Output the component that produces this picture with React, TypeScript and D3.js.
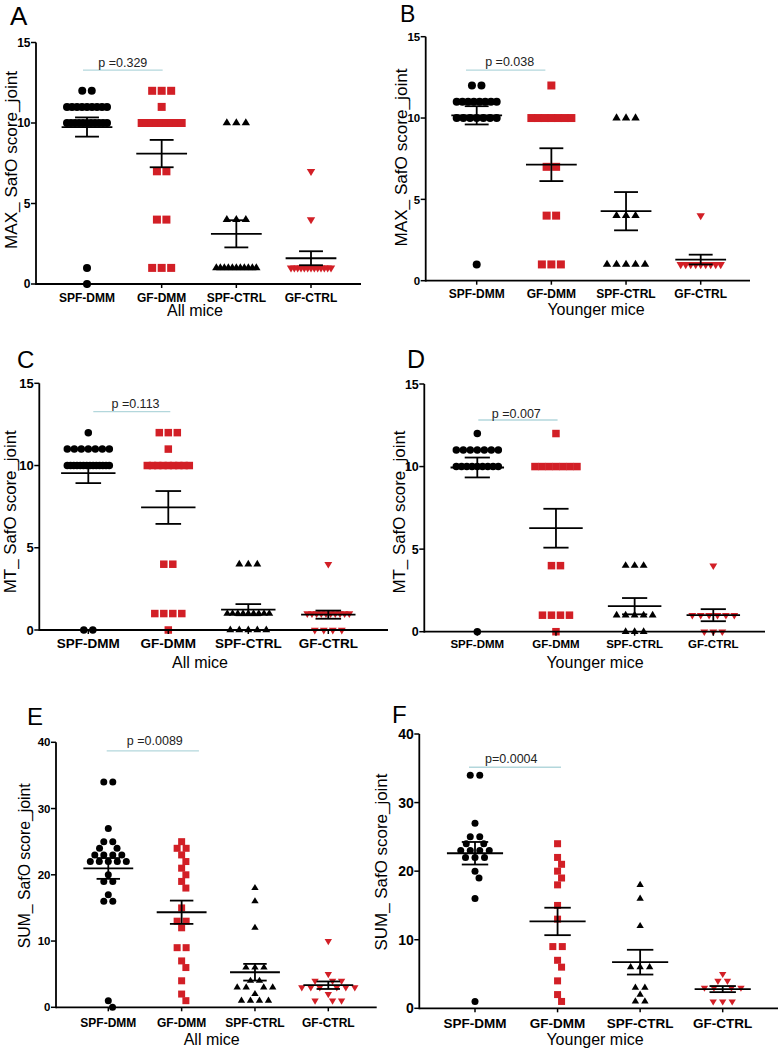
import React from "react";
import * as d3 from "d3";

const CATEGORIES = ["SPF-DMM", "GF-DMM", "SPF-CTRL", "GF-CTRL"];
const GROUP_COLORS = ["#000000", "#d21f26", "#000000", "#d21f26"];
const GROUP_SHAPES = ["circle", "square", "triangleUp", "triangleDown"];

const TICKS_15 = [0, 5, 10, 15];
const TICKS_40 = [0, 10, 20, 30, 40];

// A — MAX SafO score, all mice
const A_SPF_DMM = [12, 12, 11, 11, 11, 11, 11, 11, 11, 11, 11, 10, 10, 10, 10, 10, 10, 10, 10, 10, 10, 10, 1, 0];
const A_GF_DMM = [12, 12, 12, 11, 10, 10, 10, 10, 10, 10, 10, 10, 10, 7, 7, 4, 4, 1, 1, 1];
const A_SPF_CTRL = [10, 10, 10, 4, 4, 4, 1, 1, 1, 1, 1, 1, 1, 1, 1, 1, 1];
const A_GF_CTRL = [7, 4, 1, 1, 1, 1, 1, 1, 1, 1, 1, 1, 1, 1, 1];

// B — MAX SafO score, younger mice
const B_SPF_DMM = [12, 12, 11, 11, 11, 11, 11, 11, 11, 11, 10, 10, 10, 10, 10, 10, 10, 1];
const B_GF_DMM = [12, 10, 10, 10, 10, 10, 10, 10, 7, 7, 4, 4, 1, 1, 1];
const B_SPF_CTRL = [10, 10, 10, 4, 4, 4, 1, 1, 1, 1, 1];
const B_GF_CTRL = [4, 1, 1, 1, 1, 1, 1, 1, 1, 1];

// C — MT SafO score, all mice
const C_SPF_DMM = [12, 11, 11, 11, 11, 11, 11, 11, 10, 10, 10, 10, 10, 10, 10, 10, 10, 10, 10, 10, 10, 10, 0, 0];
const C_GF_DMM = [12, 12, 12, 11, 10, 10, 10, 10, 10, 10, 10, 10, 10, 4, 4, 1, 1, 1, 1, 0];
const C_SPF_CTRL = [4, 4, 4, 1, 1, 1, 1, 1, 1, 1, 1, 1, 0, 0, 0, 0, 0];
const C_GF_CTRL = [4, 1, 1, 1, 1, 1, 1, 1, 1, 1, 1, 0, 0, 0, 0];

// D — MT SafO score, younger mice
const D_SPF_DMM = [12, 11, 11, 11, 11, 11, 11, 11, 10, 10, 10, 10, 10, 10, 10, 10, 10, 0];
const D_GF_DMM = [12, 10, 10, 10, 10, 10, 10, 10, 4, 4, 1, 1, 1, 1, 0];
const D_SPF_CTRL = [4, 4, 4, 1, 1, 1, 1, 1, 0, 0, 0];
const D_GF_CTRL = [4, 1, 1, 1, 1, 1, 1, 0, 0, 0];

// E — SUM SafO score, all mice
const E_SPF_DMM = [34, 34, 27, 25, 25, 24, 24, 23, 23, 23, 23, 22, 22, 22, 22, 22, 20, 19, 19, 17, 16, 16, 1, 0];
const E_GF_DMM = [25, 24, 24, 23, 22, 21, 20, 19, 18, 15, 13, 13, 12, 9, 9, 7, 6, 4, 2, 1];
const E_SPF_CTRL = [18, 16, 12, 6, 6, 6, 4, 4, 3, 3, 3, 3, 2, 1, 1, 1, 1];
const E_GF_CTRL = [10, 5, 4, 4, 4, 3, 3, 3, 3, 3, 3, 2, 1, 1, 1];

// F — SUM SafO score, younger mice
const F_SPF_DMM = [34, 34, 27, 25, 25, 24, 24, 23, 23, 23, 23, 22, 22, 22, 20, 19, 16, 1];
const F_GF_DMM = [24, 22, 21, 20, 19, 18, 15, 13, 9, 9, 7, 6, 4, 2, 1];
const F_SPF_CTRL = [18, 16, 12, 6, 6, 6, 3, 3, 2, 1, 1];
const F_GF_CTRL = [5, 4, 4, 3, 3, 3, 3, 1, 1, 1];

const P_TEXTS = ["p =0.329", "p =0.038", "p =0.113", "p =0.007", "p =0.0089", "p=0.0004"];

const FONT = "'Liberation Sans', Arial, Helvetica, sans-serif";

const PANELS = [
  {
    letter: "A", groups: [A_SPF_DMM, A_GF_DMM, A_SPF_CTRL, A_GF_CTRL], ticks: TICKS_15, p: P_TEXTS[0],
    yLabel: "MAX_ SafO score_joint", xTitle: "All mice",
    L: { letterX: 10, letterY: 25, letterSize: 26, yLabelX: 17, yLabelY: 160, yLabelSize: 17, yLabelLen: 178,
      xTitleX: 195, xTitleY: 316, x0: 36, x1: 361, c0: 87, c3: 311, y0: 284, yTop: 42.5,
      tickDy: 18, tickFont: 12, yTickFont: 12, pVal: 13.29, pDx0: -4, pDx1: 1, pTextDx: 0, pTextDy: -3,
      marker: 8, S: 9.5, W: 40, Sy: 7.5 },
  },
  {
    letter: "B", groups: [B_SPF_DMM, B_GF_DMM, B_SPF_CTRL, B_GF_CTRL], ticks: TICKS_15, p: P_TEXTS[1],
    yLabel: "MAX_ SafO score_joint", xTitle: "Younger mice",
    L: { letterX: 400, letterY: 22, letterSize: 23, yLabelX: 407, yLabelY: 157.5, yLabelSize: 17, yLabelLen: 178,
      xTitleX: 596, xTitleY: 314.5, x0: 425.7, x1: 750, c0: 476.7, c3: 700.7, y0: 280.7, yTop: 36.7,
      tickDy: 17.3, tickFont: 12, yTickFont: 11.5, pVal: 12.95, pDx0: -10.7, pDx1: -6, pTextDx: 4, pTextDy: -4,
      marker: 8, S: 9.5, W: 40, Sy: 7.5 },
  },
  {
    letter: "C", groups: [C_SPF_DMM, C_GF_DMM, C_SPF_CTRL, C_GF_CTRL], ticks: TICKS_15, p: P_TEXTS[2],
    yLabel: "MT_ SafO score_joint", xTitle: "All mice",
    L: { letterX: 17, letterY: 368, letterSize: 24, yLabelX: 16, yLabelY: 511.7, yLabelSize: 17, yLabelLen: 163,
      xTitleX: 200, xTitleY: 668, x0: 39.3, x1: 388, c0: 88.3, c3: 328.3, y0: 630, yTop: 383.3,
      tickDy: 18, tickFont: 13.5, yTickFont: 13, pVal: 13.28, pDx0: 5, pDx1: 2, pTextDx: 3.7, pTextDy: -3.7,
      marker: 7.5, S: 9, W: 42, Sy: 7.5 },
  },
  {
    letter: "D", groups: [D_SPF_DMM, D_GF_DMM, D_SPF_CTRL, D_GF_CTRL], ticks: TICKS_15, p: P_TEXTS[3],
    yLabel: "MT_ SafO score_joint", xTitle: "Younger mice",
    L: { letterX: 407, letterY: 368, letterSize: 25, yLabelX: 405, yLabelY: 512, yLabelSize: 17, yLabelLen: 163,
      xTitleX: 595, xTitleY: 668, x0: 424.3, x1: 765, c0: 477.3, c3: 713.3, y0: 631.7, yTop: 384,
      tickDy: 16.3, tickFont: 11.5, yTickFont: 12.5, pVal: 12.82, pDx0: 1, pDx1: 1.6, pTextDx: -1.6, pTextDy: -2,
      marker: 7.5, S: 9, W: 42, Sy: 7.5 },
  },
  {
    letter: "E", groups: [E_SPF_DMM, E_GF_DMM, E_SPF_CTRL, E_GF_CTRL], ticks: TICKS_40, p: P_TEXTS[4],
    yLabel: "SUM_ SafO score_joint", xTitle: "All mice",
    L: { letterX: 27, letterY: 725, letterSize: 24, yLabelX: 30, yLabelY: 865.8, yLabelSize: 16, yLabelLen: 165,
      xTitleX: 211.7, xTitleY: 1045, x0: 56, x1: 376.7, c0: 108.3, c3: 328.3, y0: 1007.3, yTop: 742.3,
      tickDy: 19.7, tickFont: 12, yTickFont: 11.5, pVal: 38.7, pDx0: -1.6, pDx1: 17.3, pTextDx: 2, pTextDy: -6,
      marker: 7, S: 9, W: 45, Sy: 7.5 },
  },
  {
    letter: "F", groups: [F_SPF_DMM, F_GF_DMM, F_SPF_CTRL, F_GF_CTRL], ticks: TICKS_40, p: P_TEXTS[5],
    yLabel: "SUM_ SafO score_joint", xTitle: "Younger mice",
    L: { letterX: 392, letterY: 723, letterSize: 24, yLabelX: 387, yLabelY: 862, yLabelSize: 17, yLabelLen: 177,
      xTitleX: 595, xTitleY: 1045, x0: 419.3, x1: 778, c0: 475, c3: 722.7, y0: 1008.3, yTop: 734,
      tickDy: 19.7, tickFont: 13.5, yTickFont: 14, pVal: 35.15, pDx0: -6, pDx1: 3.4, pTextDx: -3.7, pTextDy: -4.6,
      marker: 7, S: 9.5, W: 45, Sy: 7.5 },
  },
];

type Pt = { v: number; dx: number };

function layoutGroup(values: number[], yScale: (v: number) => number, S: number, W: number, Sy: number): Pt[] {
  const rows = d3.groups(values, (v) => v).sort((a, b) => b[0] - a[0]);
  const placed: { x: number; y: number }[] = [];
  const out: Pt[] = [];
  const collides = (x: number, y: number) =>
    placed.some((p) => ((p.x - x) / S) ** 2 + ((p.y - y) / Sy) ** 2 < 0.999);
  for (const [v, arr] of rows) {
    const n = arr.length;
    const y = yScale(v);
    if (n > 1 && (n - 1) * S > W) {
      const sp = W / (n - 1);
      for (let i = 0; i < n; i++) {
        const x = (i - (n - 1) / 2) * sp;
        placed.push({ x, y });
        out.push({ v, dx: x });
      }
      continue;
    }
    if (n % 2 === 1) {
      let x = 0;
      for (let d = 0; d < 200; d += 0.25) {
        if (!collides(d, y)) { x = d; break; }
        if (!collides(-d, y)) { x = -d; break; }
      }
      placed.push({ x, y });
      out.push({ v, dx: x });
    }
    for (let k = 0; k < Math.floor(n / 2); k++) {
      let dd = S / 2;
      for (let d = S / 2; d < 200; d += 0.25) {
        if (!collides(d, y) && !collides(-d, y)) { dd = d; break; }
      }
      placed.push({ x: dd, y }, { x: -dd, y });
      out.push({ v, dx: dd }, { v, dx: -dd });
    }
  }
  return out;
}

function Marker({ shape, x, y, m, color }: { shape: string; x: number; y: number; m: number; color: string }) {
  if (shape === "circle") return <circle cx={x} cy={y} r={m / 2} fill={color} />;
  if (shape === "square") return <rect x={x - m / 2} y={y - m / 2} width={m} height={m} fill={color} />;
  const w = m * 1.05;
  const h = m * 0.88;
  if (shape === "triangleUp")
    return <path d={`M${x},${y - (2 * h) / 3}L${x + w / 2},${y + h / 3}L${x - w / 2},${y + h / 3}Z`} fill={color} />;
  return <path d={`M${x},${y + (2 * h) / 3}L${x + w / 2},${y - h / 3}L${x - w / 2},${y - h / 3}Z`} fill={color} />;
}

function Panel({ cfg }: { cfg: (typeof PANELS)[number] }) {
  const L = cfg.L;
  const yMax = cfg.ticks[cfg.ticks.length - 1];
  const y = d3.scaleLinear().domain([0, yMax]).range([L.y0, L.yTop]);
  const x = d3.scalePoint<string>().domain(CATEGORIES).range([L.c0, L.c3]);
  const step = x.step();
  const meanHalf = 0.34 * step;
  const capHalf = 0.16 * step;
  const px0 = (x(CATEGORIES[0]) as number) + L.pDx0;
  const px1 = (x(CATEGORIES[1]) as number) + L.pDx1;
  const py = y(L.pVal);

  return (
    <g>
      <text x={L.letterX} y={L.letterY} fontSize={L.letterSize} fontFamily={FONT}>{cfg.letter}</text>
      <text
        transform={`translate(${L.yLabelX},${L.yLabelY}) rotate(-90)`}
        textAnchor="middle" fontSize={L.yLabelSize} fontFamily={FONT}
        textLength={L.yLabelLen} lengthAdjust="spacingAndGlyphs"
      >{cfg.yLabel}</text>
      <text x={L.xTitleX} y={L.xTitleY} textAnchor="middle" fontSize={16} fontFamily={FONT}>{cfg.xTitle}</text>

      {/* points */}
      {cfg.groups.map((vals, gi) => {
        const cx = x(CATEGORIES[gi]) as number;
        const pts = layoutGroup(vals, y, L.S, L.W, L.Sy);
        return (
          <g key={gi}>
            {pts.map((p, i) => (
              <Marker key={i} shape={GROUP_SHAPES[gi]} x={cx + p.dx} y={y(p.v)} m={L.marker} color={GROUP_COLORS[gi]} />
            ))}
          </g>
        );
      })}

      {/* mean ± SEM */}
      {cfg.groups.map((vals, gi) => {
        const cx = x(CATEGORIES[gi]) as number;
        const mean = d3.mean(vals) as number;
        const sem = (d3.deviation(vals) as number) / Math.sqrt(vals.length);
        const yt = y(mean + sem);
        const yb = y(Math.max(0, mean - sem));
        const ym = y(mean);
        return (
          <g key={"e" + gi} stroke="#000" strokeWidth={1.8} fill="none">
            <line x1={cx - meanHalf} x2={cx + meanHalf} y1={ym} y2={ym} />
            <line x1={cx} x2={cx} y1={yt} y2={yb} />
            <line x1={cx - capHalf} x2={cx + capHalf} y1={yt} y2={yt} />
            <line x1={cx - capHalf} x2={cx + capHalf} y1={yb} y2={yb} />
          </g>
        );
      })}

      {/* axes */}
      <line x1={L.x0} x2={L.x0} y1={y(0) + 0.9} y2={y(yMax)} stroke="#000" strokeWidth={1.8} />
      <line x1={L.x0} x2={L.x1} y1={y(0)} y2={y(0)} stroke="#000" strokeWidth={1.8} />
      {cfg.ticks.map((t) => (
        <g key={t}>
          <line x1={L.x0 - 5} x2={L.x0} y1={y(t)} y2={y(t)} stroke="#000" strokeWidth={1.5} />
          <text x={L.x0 - 5.5} y={y(t)} dy="0.36em" textAnchor="end" fontSize={L.yTickFont}
            fontWeight="bold" fontFamily={FONT}>{t}</text>
        </g>
      ))}
      {CATEGORIES.map((c) => (
        <g key={c}>
          <line x1={x(c) as number} x2={x(c) as number} y1={y(0)} y2={y(0) + 4} stroke="#000" strokeWidth={1.5} />
          <text x={x(c) as number} y={y(0) + L.tickDy} textAnchor="middle" fontSize={L.tickFont}
            fontWeight="bold" fontFamily={FONT}>{c}</text>
        </g>
      ))}

      {/* significance */}
      <line x1={px0} x2={px1} y1={py} y2={py} stroke="#b3d7dc" strokeWidth={1.3} />
      <text x={(px0 + px1) / 2 + L.pTextDx} y={py + L.pTextDy} textAnchor="middle" fontSize={12.5}
        fontFamily={FONT} fill="#222">{cfg.p}</text>
    </g>
  );
}

export default function App() {
  return (
    <svg width={780} height={1050} viewBox="0 0 780 1050"
      style={{ position: "absolute", left: 0, top: 0, background: "#fff" }}>
      <rect x={0} y={0} width={780} height={1050} fill="#fff" />
      {PANELS.map((p) => (
        <Panel key={p.letter} cfg={p} />
      ))}
    </svg>
  );
}
